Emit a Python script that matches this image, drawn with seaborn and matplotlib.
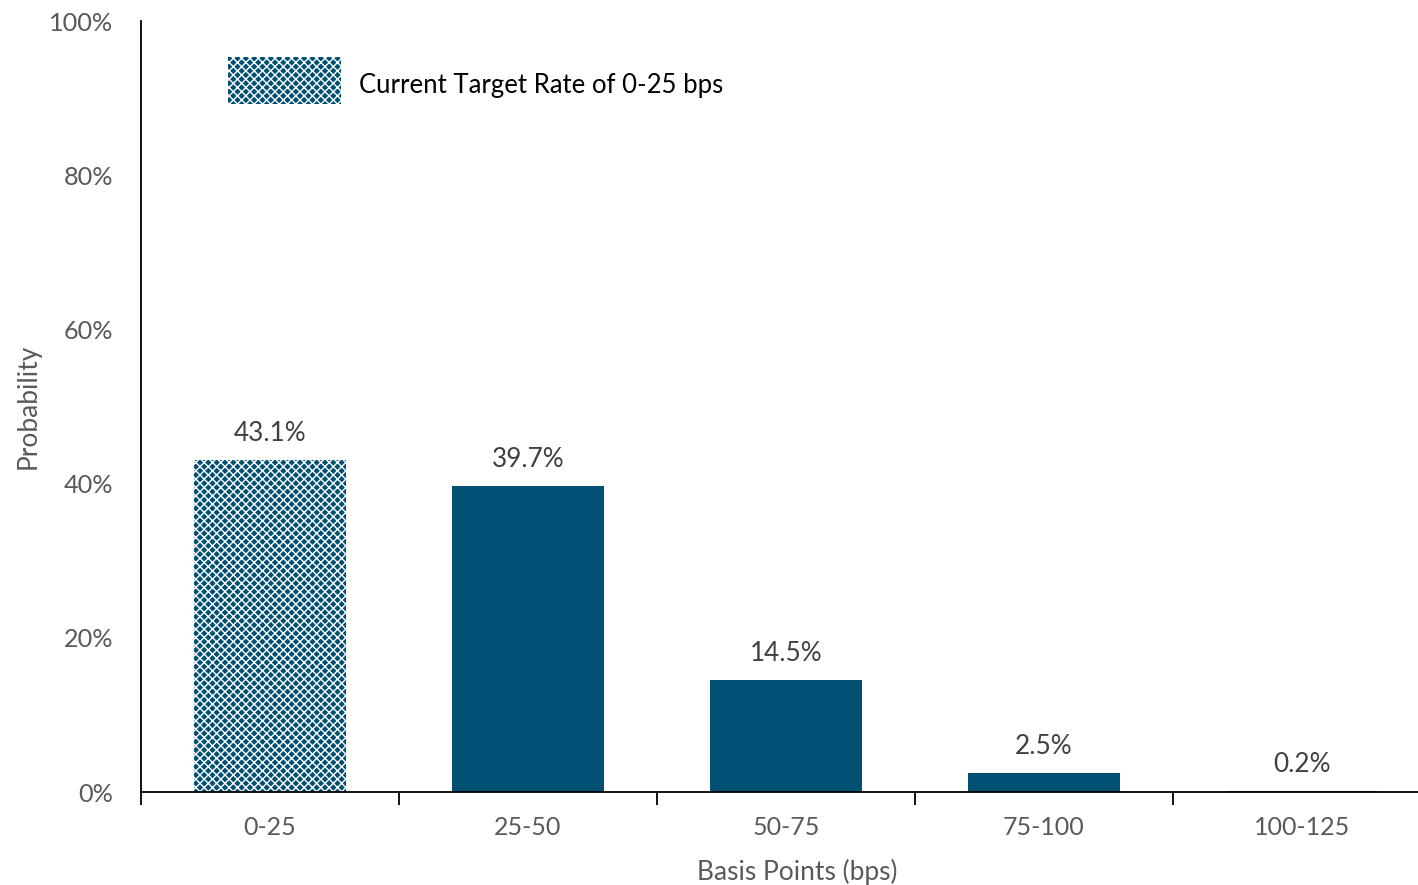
import matplotlib
matplotlib.use("Agg")
import matplotlib.pyplot as plt
import seaborn as sns
import pandas as pd
from matplotlib.ticker import FixedLocator, PercentFormatter

categories = ["0-25", "25-50", "50-75", "75-100", "100-125"]
probabilities = [43.1, 39.7, 14.5, 2.5, 0.2]
yticks = [0, 20, 40, 60, 80, 100]
legend_label = "Current Target Rate of 0-25 bps"

sns.set_theme(style="white")
plt.rcParams['font.family'] = ['Lato', 'DejaVu Sans']
plt.rcParams['hatch.linewidth'] = 1.0

bar_color = "#005073"
gray = "#595959"

df = pd.DataFrame({"cat": categories, "prob": probabilities})

fig = plt.figure(figsize=(14.18, 8.85), dpi=100)
ax = fig.add_axes([0.0994, 0.105, 0.9006, 0.871])

sns.barplot(data=df, x="cat", y="prob", color=bar_color, saturation=1,
            width=0.59, ax=ax)

patches = ax.patches
for p in patches:
    p.set_linewidth(0)
first = patches[0]
first.set_hatch("xxxx")
first.set_edgecolor("white")

for p, v in zip(patches, probabilities):
    ax.text(p.get_x() + p.get_width() / 2, v + 1.8, f"{v:.1f}%",
            ha="center", va="bottom", fontsize=18.8, color="#404040")

ax.set_ylim(0, 100)
ax.set_xlim(-0.5, 4.45)
ax.set_yticks(yticks)
ax.yaxis.set_major_formatter(PercentFormatter(decimals=0))
ax.tick_params(axis="y", length=0, labelsize=18.2, labelcolor=gray, pad=20)
ax.tick_params(axis="x", which="major", length=0, labelsize=18, labelcolor=gray, pad=17)
ax.xaxis.set_minor_locator(FixedLocator([-0.5, 0.5, 1.5, 2.5, 3.5]))
ax.tick_params(axis="x", which="minor", length=9, width=1.3, color="black",
               direction="out", bottom=True)

for s in ["top", "right"]:
    ax.spines[s].set_visible(False)
for s in ["left", "bottom"]:
    ax.spines[s].set_color("black")
    ax.spines[s].set_linewidth(1.3)

ax.set_xlabel("Basis Points (bps)", fontsize=19, color=gray, labelpad=14)
ax.xaxis.set_label_coords(0.514, -0.087)
ax.set_ylabel("Probability", fontsize=19, color=gray, labelpad=6)

leg = ax.legend([first], [legend_label], loc="upper left",
                bbox_to_anchor=(0.050, 0.984), frameon=False, fontsize=18.5,
                handlelength=4.4, handleheight=2.44, handletextpad=0.7)
for t in leg.get_texts():
    t.set_color("black")
    t.set_y(-5)

fig.savefig("out.png", dpi=100)
